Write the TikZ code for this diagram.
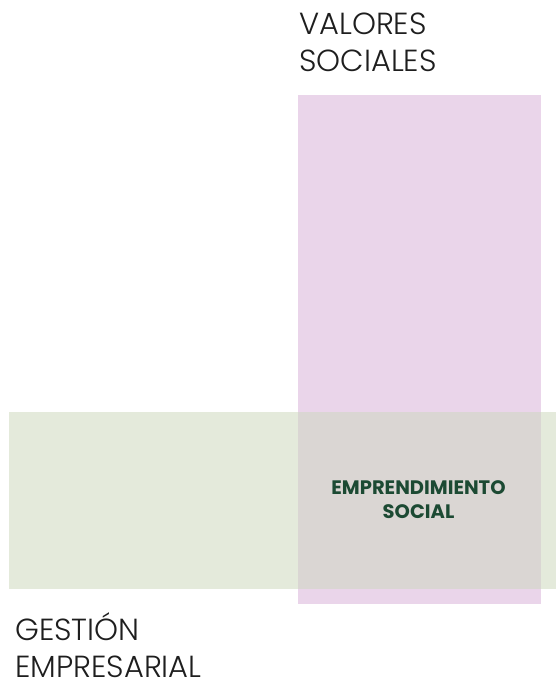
\documentclass[tikz,border=0pt]{standalone}
\usepackage{fontspec}
\newfontfamily\lightfont{Poppins Light}
\newfontfamily\boldfont{Poppins Bold}
\definecolor{pinkc}{HTML}{EAD5EA}
\definecolor{greenc}{HTML}{E4EADB}
\definecolor{overc}{HTML}{DAD6D3}
\definecolor{textg}{HTML}{1C4A33}
\definecolor{labelc}{HTML}{1E1E1E}
\tikzset{
  bigtext/.style={inner sep=0pt, align=left, text=labelc, font=\lightfont\fontsize{30.5}{37}\selectfont},
  centertext/.style={inner sep=0pt, align=center, text=textg, font=\boldfont\fontsize{19.5}{24}\selectfont}
}
\begin{document}
\begin{tikzpicture}[x=1pt,y=-1pt]
\useasboundingbox (0,0) rectangle (556,685);
\fill[pinkc] (298,95) rectangle (541,604);
\fill[greenc] (9,412) rectangle (556,589);
\fill[overc] (298,412) rectangle (541,589);
\node[bigtext, anchor=base west] (valores) at (299,71) {VALORES\\SOCIALES};
\node[bigtext, anchor=base west] (gestion) at (15,677) {GESTIÓN\\EMPRESARIAL};
\node[centertext, anchor=base] (emp) at (418.5,518) {EMPRENDIMIENTO\\SOCIAL};
\end{tikzpicture}
\end{document}
